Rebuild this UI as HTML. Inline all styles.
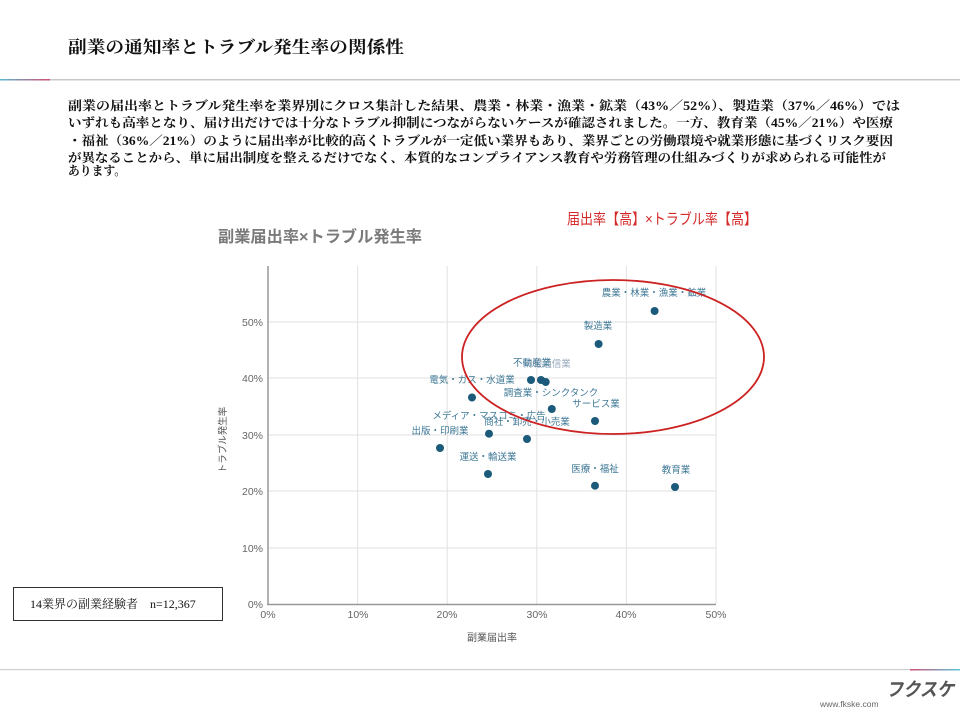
<!DOCTYPE html>
<html><head><meta charset="utf-8"><style>
html,body{margin:0;padding:0;background:#fff}
svg{display:block}
.s{font-family:"Liberation Serif","Noto Serif CJK SC",serif}
.g{font-family:"Liberation Sans","Noto Sans CJK JP",sans-serif}
</style></head><body>
<svg width="960" height="720" viewBox="0 0 960 720" xmlns="http://www.w3.org/2000/svg">
<defs>
<linearGradient id="lg1" x1="0" x2="1"><stop offset="0" stop-color="#5ab8d0"/><stop offset="1" stop-color="#d0507a"/></linearGradient>
<linearGradient id="lg2" x1="0" x2="1"><stop offset="0" stop-color="#d0507a"/><stop offset="1" stop-color="#5ac8d8"/></linearGradient>
</defs>
<text class="s" x="68" y="53" font-size="17" font-weight="bold" fill="#111" textLength="336" lengthAdjust="spacingAndGlyphs">副業の通知率とトラブル発生率の関係性</text>
<rect x="0" y="79" width="960" height="1.5" fill="#c8c8c8"/>
<rect x="0" y="79" width="50" height="1.5" fill="url(#lg1)"/>
<g class="s" font-size="12.5" font-weight="bold" fill="#111">
<text x="68" y="110" textLength="832" lengthAdjust="spacingAndGlyphs">副業の届出率とトラブル発生率を業界別にクロス集計した結果、農業・林業・漁業・鉱業（43%／52%）、製造業（37%／46%）では</text>
<text x="68" y="127" textLength="825" lengthAdjust="spacingAndGlyphs">いずれも高率となり、届け出だけでは十分なトラブル抑制につながらないケースが確認されました。一方、教育業（45%／21%）や医療</text>
<text x="68" y="145" textLength="825" lengthAdjust="spacingAndGlyphs">・福祉（36%／21%）のように届出率が比較的高くトラブルが一定低い業界もあり、業界ごとの労働環境や就業形態に基づくリスク要因</text>
<text x="68" y="162" textLength="818" lengthAdjust="spacingAndGlyphs">が異なることから、単に届出制度を整えるだけでなく、本質的なコンプライアンス教育や労務管理の仕組みづくりが求められる可能性が</text>
<text x="68" y="175" textLength="58" lengthAdjust="spacingAndGlyphs">あります。</text>
</g>
<!-- chart -->
<text class="g" x="218" y="242" font-size="16" font-weight="bold" fill="#7a7a7a" textLength="204" lengthAdjust="spacingAndGlyphs">副業届出率×トラブル発生率</text>
<text class="g" x="567" y="224" font-size="15" fill="#d42a2a" textLength="190" lengthAdjust="spacingAndGlyphs">届出率【高】×トラブル率【高】</text>
<g stroke="#e2e2e2" stroke-width="1">
<line x1="357.6" y1="266" x2="357.6" y2="604"/><line x1="447.2" y1="266" x2="447.2" y2="604"/>
<line x1="536.8" y1="266" x2="536.8" y2="604"/><line x1="626.4" y1="266" x2="626.4" y2="604"/>
<line x1="716" y1="266" x2="716" y2="604"/>
<line x1="268" y1="322" x2="716" y2="322"/><line x1="268" y1="378" x2="716" y2="378"/>
<line x1="268" y1="435" x2="716" y2="435"/><line x1="268" y1="491" x2="716" y2="491"/>
<line x1="268" y1="548" x2="716" y2="548"/>
</g>
<line x1="268" y1="266" x2="268" y2="605" stroke="#999" stroke-width="1.5"/>
<line x1="267" y1="604.5" x2="716" y2="604.5" stroke="#999" stroke-width="1.5"/>
<g class="g" font-size="10.5" fill="#666" text-anchor="end">
<text x="263" y="326">50%</text><text x="263" y="382">40%</text><text x="263" y="439">30%</text>
<text x="263" y="495">20%</text><text x="263" y="552">10%</text><text x="263" y="608">0%</text>
</g>
<g class="g" font-size="10.5" fill="#666" text-anchor="middle">
<text x="268" y="618">0%</text><text x="358" y="618">10%</text><text x="447" y="618">20%</text>
<text x="537" y="618">30%</text><text x="626" y="618">40%</text><text x="716" y="618">50%</text>
</g>
<text class="g" x="492" y="641" font-size="10" fill="#555" text-anchor="middle">副業届出率</text>
<text class="g" transform="translate(226,440) rotate(-90)" font-size="9.5" fill="#555" text-anchor="middle">トラブル発生率</text>
<g class="g" font-size="9.5" fill="#3f7896" text-anchor="middle">
<text x="654" y="296">農業・林業・漁業・鉱業</text>
<text x="598" y="329">製造業</text>
<text x="547" y="367" fill="#9ab">情報通信業</text>
<text x="532" y="366">不動産業</text>
<text x="472" y="383">電気・ガス・水道業</text>
<text x="551" y="396">調査業・シンクタンク</text>
<text x="596" y="407">サービス業</text>
<text x="489" y="419">メディア・マスコミ・広告</text>
<text x="527" y="425">商社・卸売・小売業</text>
<text x="440" y="434">出版・印刷業</text>
<text x="488" y="460">運送・輸送業</text>
<text x="595" y="472">医療・福祉</text>
<text x="676" y="473">教育業</text>
</g>
<g fill="#1b5a7a">
<circle cx="654.6" cy="311" r="4"/><circle cx="598.6" cy="344" r="4"/>
<circle cx="531" cy="380" r="4"/><circle cx="541" cy="380" r="4"/><circle cx="545.7" cy="382" r="4"/>
<circle cx="472" cy="397.5" r="4"/><circle cx="551.8" cy="409" r="4"/><circle cx="595" cy="421" r="4"/>
<circle cx="489" cy="433.7" r="4"/><circle cx="527" cy="439" r="4"/><circle cx="440" cy="448" r="4"/>
<circle cx="488" cy="474" r="4"/><circle cx="595" cy="485.7" r="4"/><circle cx="675" cy="487" r="4"/>
</g>
<ellipse cx="613" cy="357" rx="151" ry="77" fill="none" stroke="#cc2222" stroke-width="1.8"/>
<rect x="13.5" y="587.5" width="209" height="33" fill="#fff" stroke="#333" stroke-width="1"/>
<text class="s" x="30" y="608" font-size="12" fill="#111">14業界の副業経験者　n=12,367</text>
<rect x="0" y="669" width="960" height="1.2" fill="#cfcfcf"/>
<rect x="910" y="669" width="50" height="1.5" fill="url(#lg2)"/>
<text class="g" x="820" y="707" font-size="8.5" fill="#666">www.fkske.com</text>
<text class="g" x="886" y="696" font-size="19" font-weight="bold" font-style="italic" fill="#555" textLength="68" lengthAdjust="spacingAndGlyphs">フクスケ</text>
</svg>
</body></html>
